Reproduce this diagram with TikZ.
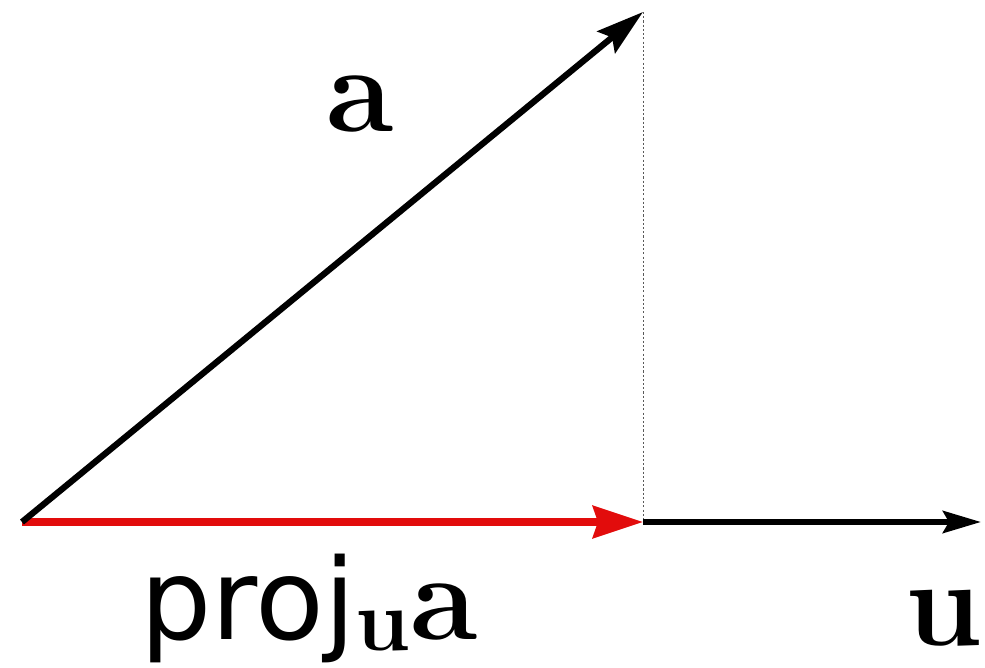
\documentclass[tikz,border=0pt]{standalone}
\usepackage{fontspec}
\newfontfamily\projfont{DejaVu Sans}
\usetikzlibrary{arrows.meta}
\definecolor{projred}{RGB}{226,12,12}
\begin{document}
\begin{tikzpicture}[x=0.02cm,y=-0.02cm,line join=round,every node/.style={inner sep=0pt},
  vec/.style={line width=0.125cm},
  big/.style={font=\fontsize{70}{84}\selectfont\bfseries}]
  \useasboundingbox (0,0) rectangle (985,668);
  \coordinate (O) at (22,522);
  \coordinate (A) at (643,12);
  \coordinate (P) at (643,522);
  \coordinate (U) at (981,522);
  \draw[gray!70!black,line width=0.5pt,dash pattern=on 1.2pt off 1.2pt] (A) -- (P);
  \draw[vec,-{Stealth[length=0.76cm,width=0.44cm,inset=0.12cm]}] (P) -- (U);
  \draw[vec,projred,line width=0.15cm,-{Stealth[length=1cm,width=0.64cm,inset=0.1cm]}] (O) -- (P);
  \draw[vec,-{Stealth[length=0.95cm,width=0.56cm,inset=0.15cm]}] (O) -- (A);
  \node[big,anchor=base] (la) at (360,132) {a};
  \node[big,anchor=base west] (lu) at (905,646) {u};
  \node[anchor=base west] (lproj) at (140,640) {\fontsize{64}{78}\selectfont\projfont proj\raisebox{-0.22cm}{\fontsize{50}{60}\selectfont\rmfamily\bfseries u}{\fontsize{70}{84}\selectfont\rmfamily\bfseries a}};
\end{tikzpicture}
\end{document}
